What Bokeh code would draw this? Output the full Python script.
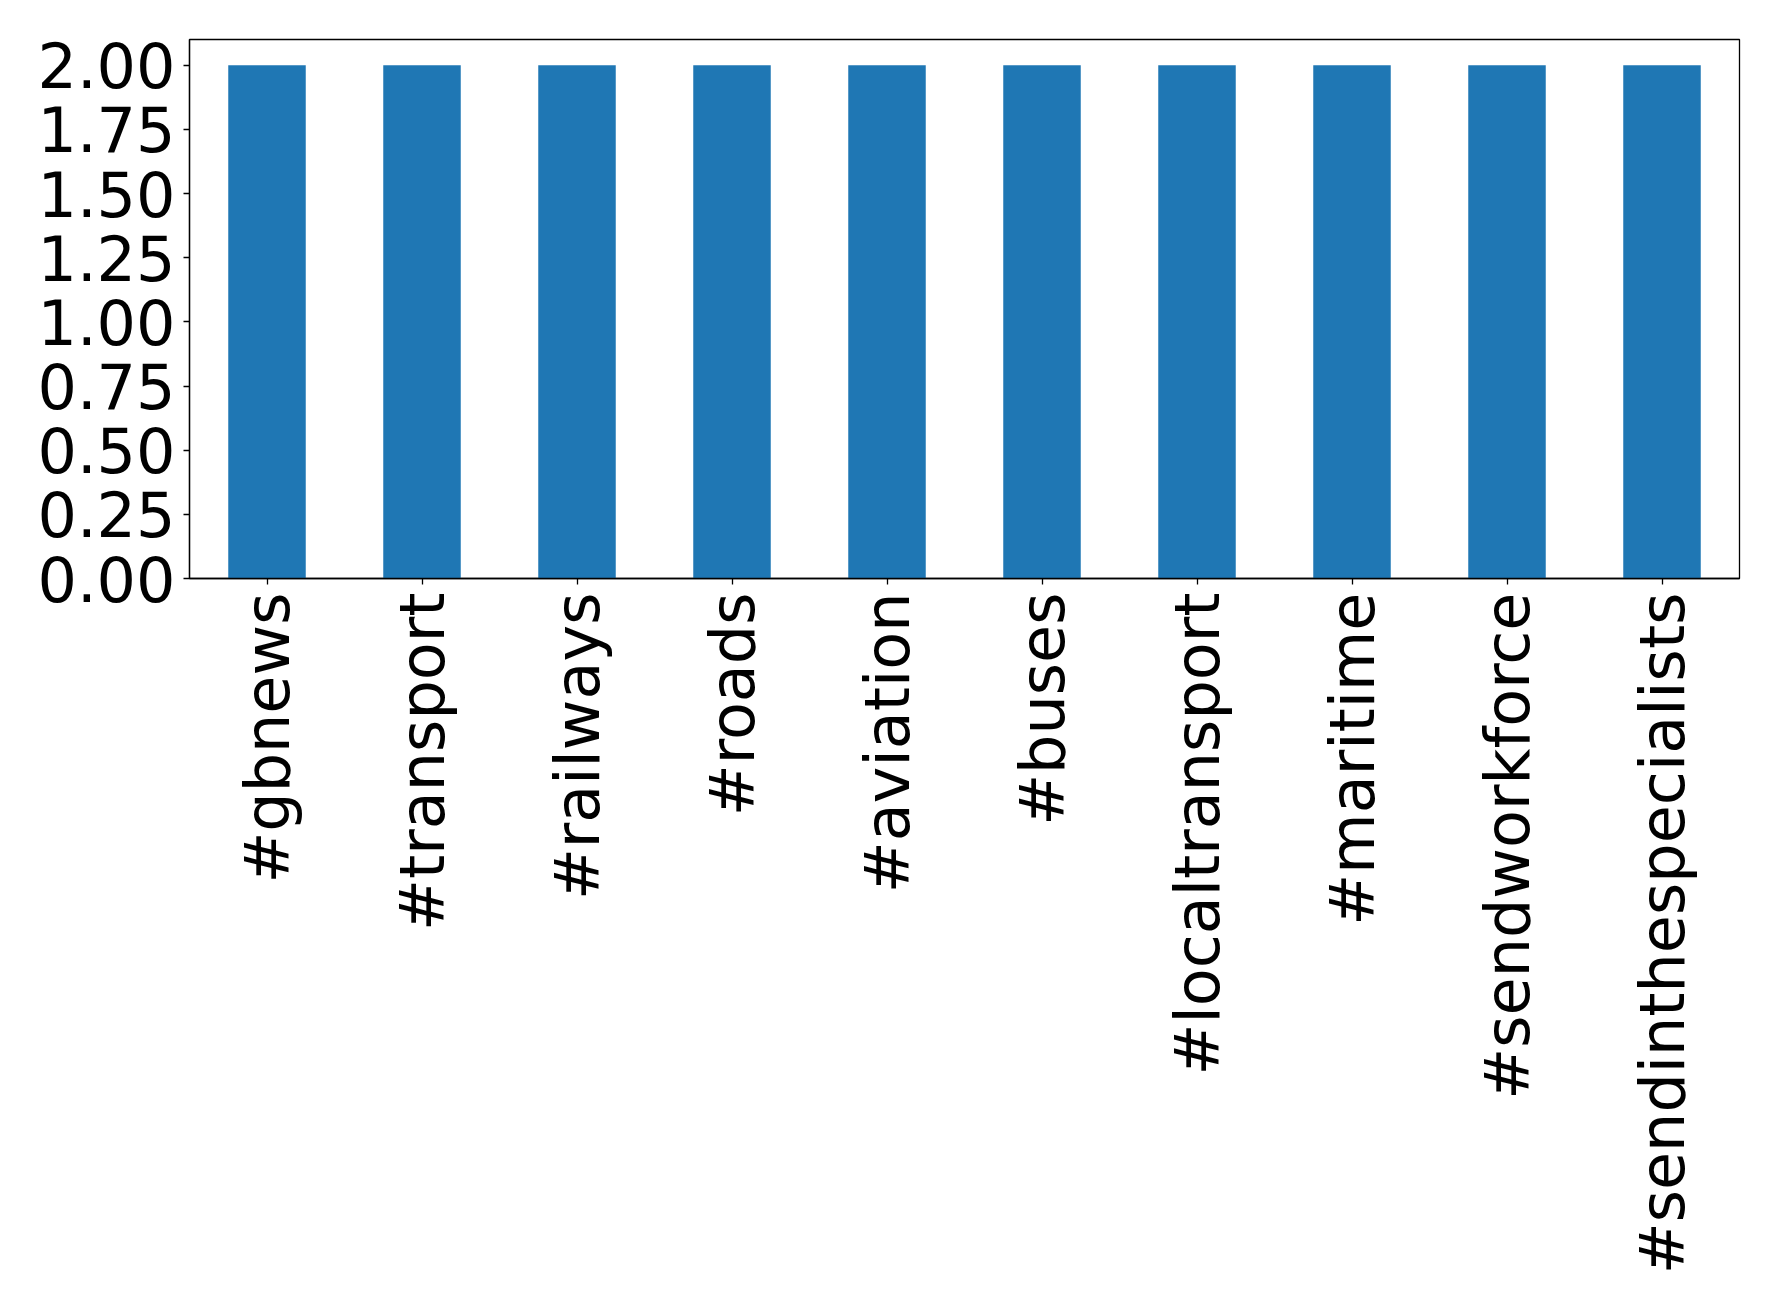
import math
from bokeh.plotting import figure
from bokeh.models import ColumnDataSource, FixedTicker, NumeralTickFormatter, Range1d, FactorRange
from bokeh.embed import file_html
from bokeh.resources import INLINE

hashtags = ["#gbnews", "#transport", "#railways", "#roads", "#aviation",
            "#buses", "#localtransport", "#maritime", "#sendworkforce",
            "#sendinthespecialists"]
counts = [2, 2, 2, 2, 2, 2, 2, 2, 2, 2]
y_ticks = [0.0, 0.25, 0.5, 0.75, 1.0, 1.25, 1.5, 1.75, 2.0]

source = ColumnDataSource(data=dict(tag=hashtags, count=counts))

p = figure(x_range=FactorRange(factors=hashtags, range_padding=0),
           y_range=Range1d(0, 2.1),
           width=1762, height=1299,
           frame_width=1550, frame_height=539,
           min_border_left=189, min_border_top=39, min_border_right=23, min_border_bottom=100,
           output_backend="svg", toolbar_location=None)

p.vbar(x="tag", top="count", width=0.5, source=source, color="#1f77b4", line_color=None)

p.xgrid.grid_line_color = None
p.ygrid.grid_line_color = None
p.outline_line_color = "black"
p.outline_line_width = 1.3
p.background_fill_color = "white"
p.border_fill_color = "white"

p.yaxis.ticker = FixedTicker(ticks=y_ticks)
p.yaxis.formatter = NumeralTickFormatter(format="0.00")

for ax in (p.xaxis, p.yaxis):
    ax.axis_line_color = "black"
    ax.axis_line_width = 1.3
    ax.major_tick_line_color = "black"
    ax.major_tick_line_width = 1.3
    ax.major_tick_out = 6
    ax.major_tick_in = 0
    ax.minor_tick_line_color = None
    ax.major_label_text_font = "DejaVu Sans"
    ax.major_label_text_font_size = "62px"
    ax.major_label_text_color = "black"
    ax.major_label_standoff = 8

p.xaxis.major_label_orientation = math.pi / 2

open("out.html", "w").write(file_html(p, INLINE))
